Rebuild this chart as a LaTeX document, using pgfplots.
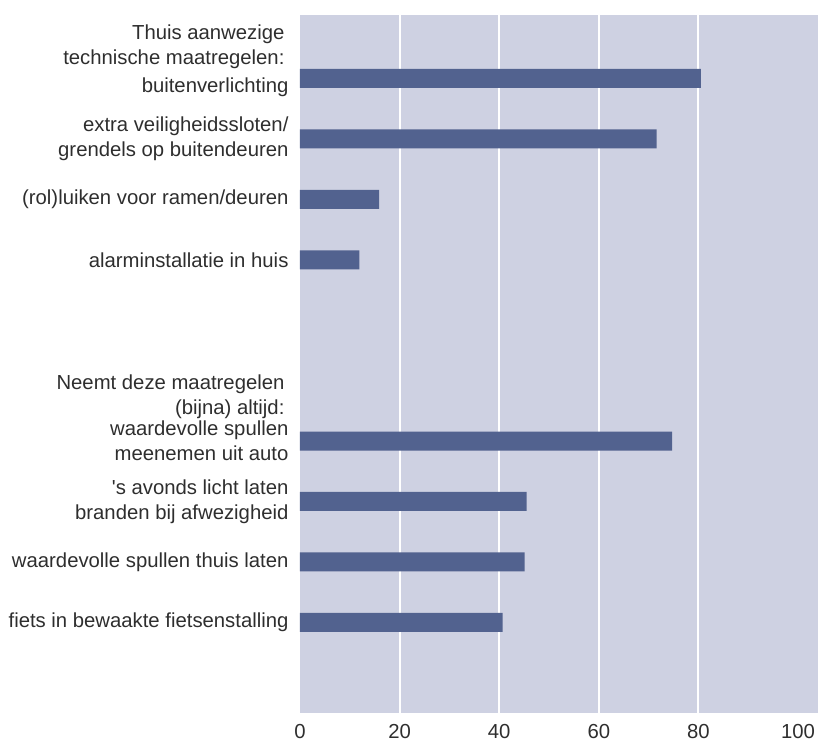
\documentclass[border=0pt]{standalone}
\usepackage{fontspec}
\setmainfont{Liberation Sans}
\usepackage{pgfplots}
\pgfplotsset{compat=1.18}
\definecolor{bgc}{HTML}{CED1E2}
\definecolor{barc}{HTML}{52628F}
\definecolor{txt}{HTML}{2E2E2E}
\begin{document}
\begin{tikzpicture}[font=\fontsize{20.3}{25}\selectfont, text=txt]
\begin{axis}[
  scale only axis, width=518pt, height=698pt,
  xmin=0, xmax=104, ymin=-1.05, ymax=10.5, y dir=reverse,
  axis background/.style={fill=bgc},
  axis line style={draw=none},
  xbar, bar width=19pt,
  xtick={20,40,60,80}, extra x ticks={0,100}, extra x tick style={grid=none},
  xmajorgrids, major grid style={white, line width=2pt},
  tick style={draw=none}, major tick length=0pt,
  ytick={0,1,2,3,6,7,8,9},
  yticklabels={{\raisebox{-9pt}[\height][\depth]{buitenverlichting}},
    {extra veiligheidssloten/\\grendels op buitendeuren},
    {(rol)luiken voor ramen/deuren},
    {alarminstallatie in huis},
    {waardevolle spullen\\meenemen uit auto},
    {\textquotesingle s avonds licht laten\\branden bij afwezigheid},
    {waardevolle spullen thuis laten},
    {fiets in bewaakte fietsenstalling}},
  yticklabel style={align=right, xshift=-8pt, text=txt},
  xticklabel style={text=txt, yshift=-8pt},
  /pgf/number format/assume math mode=true,
]
\addplot[fill=barc, draw=none] coordinates {(80.5,0) (71.6,1) (15.9,2) (11.9,3) (74.7,6) (45.5,7) (45.1,8) (40.7,9)};
\coordinate (h1) at (axis cs:0,-0.52);
\coordinate (h2) at (axis cs:0,5.26);
\end{axis}
\node[anchor=east, align=right, xshift=-12pt] at (h1) {Thuis aanwezige\\technische maatregelen:};
\node[anchor=east, align=right, xshift=-12pt] at (h2) {Neemt deze maatregelen\\(bijna) altijd:};
\pgfresetboundingbox
\useasboundingbox ([xshift=-300pt,yshift=-31pt]current axis.south west) rectangle ([xshift=5pt,yshift=15pt]current axis.north east);
\end{tikzpicture}
\end{document}
